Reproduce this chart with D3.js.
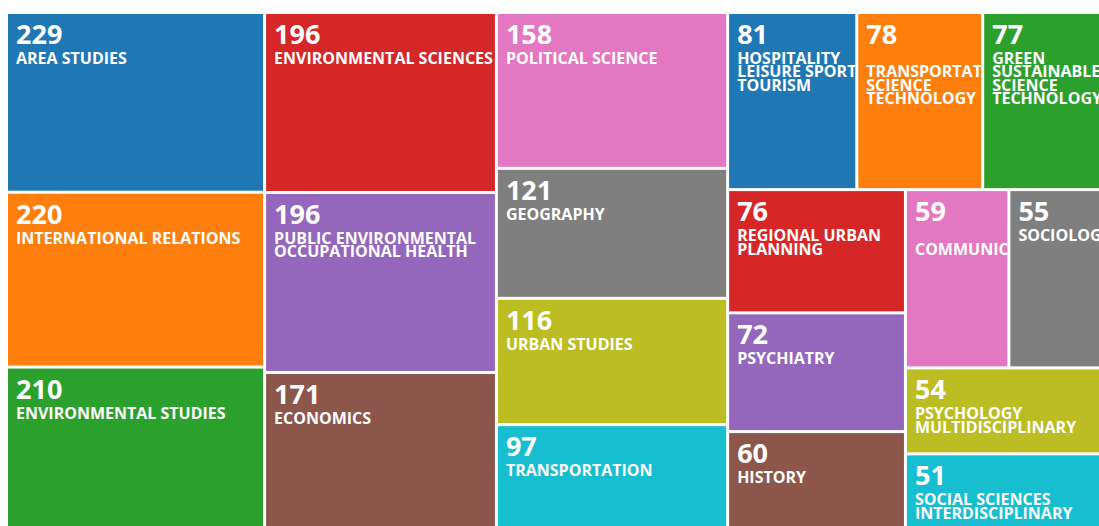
<!DOCTYPE html>
<html>
<head>
<meta charset="utf-8">
<script src="https://cdn.jsdelivr.net/npm/d3@7"></script>
<style>
  html, body { margin: 0; padding: 0; background: #fff; }
  svg { display: block; }
  text { font-family: "Open Sans", "Noto Sans", sans-serif; font-weight: 700; fill: #fff; }
</style>
</head>
<body>
<svg id="chart" width="1099" height="526"></svg>
<script>
const categories = [
  "AREA STUDIES", "INTERNATIONAL RELATIONS", "ENVIRONMENTAL STUDIES",
  "ENVIRONMENTAL SCIENCES", "PUBLIC ENVIRONMENTAL\nOCCUPATIONAL HEALTH", "ECONOMICS",
  "POLITICAL SCIENCE", "GEOGRAPHY", "URBAN STUDIES", "TRANSPORTATION",
  "HOSPITALITY\nLEISURE SPORT\nTOURISM", "\nTRANSPORTATION\nSCIENCE\nTECHNOLOGY",
  "GREEN\nSUSTAINABLE\nSCIENCE\nTECHNOLOGY", "REGIONAL URBAN\nPLANNING", "PSYCHIATRY",
  "HISTORY", "\nCOMMUNICATION", "SOCIOLOGY", "PSYCHOLOGY\nMULTIDISCIPLINARY",
  "SOCIAL SCIENCES\nINTERDISCIPLINARY"
];
const values = [229, 220, 210, 196, 196, 171, 158, 121, 116, 97, 81, 78, 77, 76, 72, 60, 59, 55, 54, 51];

const colors = d3.schemeCategory10;
const W = 1098, H = 521, X0 = 8, Y0 = 14, GAP = 3;
const sizeExponent = 0.68;

const root = d3.hierarchy({children: categories.map((c, i) => ({name: c, value: values[i], idx: i}))})
  .sum(d => d.value ? Math.pow(d.value, sizeExponent) : 0);

d3.treemap()
  .tile(d3.treemapSquarify)
  .size([W + GAP, H + GAP])
  .round(false)(root);

const svg = d3.select("#chart");
const g = svg.append("g").attr("transform", `translate(${X0},${Y0})`);
const color = d3.scaleOrdinal().domain(d3.range(10)).range(colors);

const cell = g.selectAll("g.cell").data(root.leaves()).join("g")
  .attr("class", "cell")
  .attr("transform", d => `translate(${d.x0},${d.y0})`);

cell.append("clipPath").attr("id", d => "clip" + d.data.idx)
  .append("rect")
  .attr("width", d => Math.max(0, d.x1 - d.x0 - GAP))
  .attr("height", d => Math.max(0, d.y1 - d.y0 - GAP));

cell.append("rect")
  .attr("width", d => Math.max(0, d.x1 - d.x0 - GAP))
  .attr("height", d => Math.max(0, d.y1 - d.y0 - GAP))
  .attr("fill", d => color(d.data.idx % 10));

const t = cell.append("g").attr("clip-path", d => `url(#clip${d.data.idx})`);
t.append("text")
  .attr("x", 8).attr("y", 30)
  .style("font-size", "27px")
  .text(d => d.data.value);
t.append("text")
  .attr("x", 8)
  .style("font-size", "16px")
  .selectAll("tspan").data(d => d.data.name.split("\n")).join("tspan")
  .attr("x", 8)
  .attr("y", (s, i) => 50 + i * 13.4)
  .text(s => s);
</script>
</body>
</html>
